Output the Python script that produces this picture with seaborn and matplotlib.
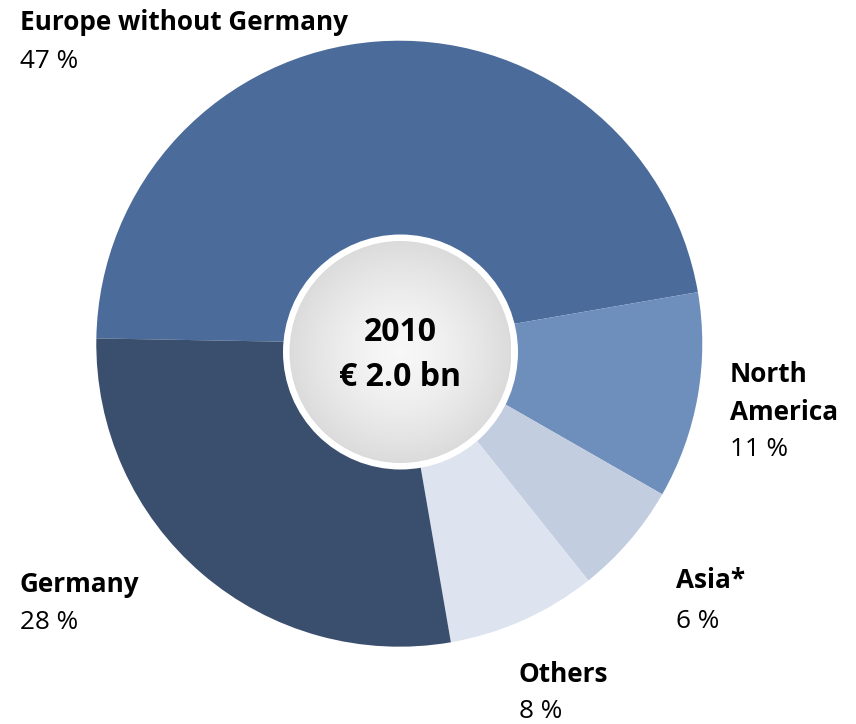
import numpy as np
import matplotlib
matplotlib.use("Agg")
import matplotlib.pyplot as plt
from matplotlib.patches import Circle
import seaborn as sns

# Revenue share by region, 2010
regions = ["Europe without Germany", "North America", "Asia*", "Others", "Germany"]
shares = [47, 11, 6, 8, 28]
share_labels = ["47 %", "11 %", "6 %", "8 %", "28 %"]
region_labels = ["Europe without Germany", "North\nAmerica", "Asia*", "Others", "Germany"]
center_year = "2010"
center_total = "€ 2.0 bn"

sns.set_theme(style="white")
plt.rcParams["font.family"] = ["Open Sans", "DejaVu Sans"]

W, H = 856, 724
fig = plt.figure(figsize=(W / 100, H / 100), dpi=100)
ax = fig.add_axes([0, 0, 1, 1])

def py(y):
    # convert top-down pixel row to data y
    return H - y

palette = sns.color_palette(["#4B6B9B", "#6E8EBB", "#C2CDE0", "#DDE4EF", "#3A4E6E"])

cx, cy, R = 399.3, py(343.7), 303
ax.pie(shares, colors=palette, startangle=179.0, counterclock=False,
       center=(cx, cy), radius=R, wedgeprops=dict(linewidth=0))

# centre disc with white rim and soft radial gradient
ccx, ccy, cr = 400.5, py(352), 117.5
rim = Circle((ccx, ccy), cr, facecolor="white", edgecolor="none", zorder=3)
ax.add_patch(rim)
inner_r = cr - 6.5
disc = Circle((ccx, ccy), inner_r, facecolor="none", edgecolor="none", zorder=4)
ax.add_patch(disc)
n = 400
gx, gy = np.meshgrid(np.linspace(-1, 1, n), np.linspace(-1, 1, n))
rr = np.clip(np.sqrt(gx ** 2 + gy ** 2), 0, 1)
c0, c1 = np.array([0.97, 0.97, 0.97]), np.array([0.86, 0.86, 0.86])
img = c0[None, None, :] + (c1 - c0)[None, None, :] * (rr ** 1.5)[..., None]
im = ax.imshow(img, extent=(ccx - inner_r, ccx + inner_r, ccy - inner_r, ccy + inner_r),
               zorder=5, interpolation="bilinear")
im.set_clip_path(disc)

ax.text(ccx, py(341), center_year, ha="center", va="baseline", fontsize=23,
        fontweight="bold", color="black", zorder=6)
ax.text(ccx, py(386), center_total, ha="center", va="baseline", fontsize=23,
        fontweight="bold", color="black", zorder=6)

# outside labels: (x, baseline of first name line, baseline of share line)
label_pos = {
    "Europe without Germany": (20, 29.5, 68.3),
    "North America": (730, 382.3, 456),
    "Asia*": (676, 588.3, 627.7),
    "Others": (519, 681.7, 718.3),
    "Germany": (20, 591.7, 629),
}
fs = 18.8
for name, lab, pct in zip(regions, region_labels, share_labels):
    x, yb, yp = label_pos[name]
    for i, line in enumerate(lab.split("\n")):
        ax.text(x, py(yb + i * 37.7), line, ha="left", va="baseline",
                fontsize=fs, fontweight="bold", color="black")
    ax.text(x, py(yp), pct, ha="left", va="baseline", fontsize=fs, color="black")

ax.set_xlim(0, W)
ax.set_ylim(0, H)
ax.set_aspect("equal")
ax.set_axis_off()
fig.savefig("out.png", dpi=100)
